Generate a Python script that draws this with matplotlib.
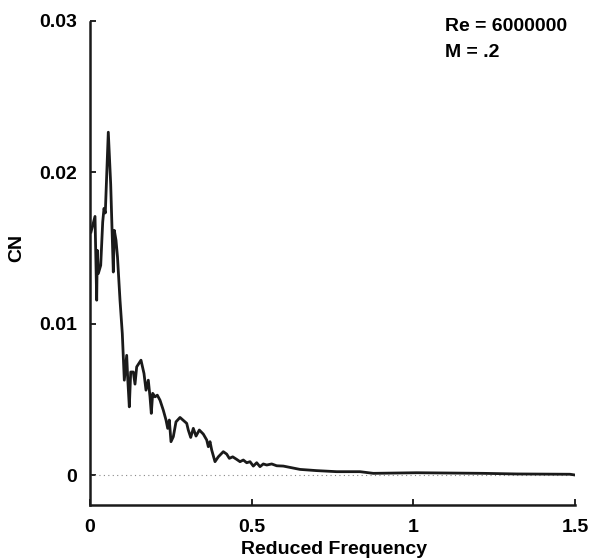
import matplotlib
matplotlib.use("Agg")
import matplotlib.pyplot as plt

plt.rcParams['font.family'] = ['Liberation Sans', 'DejaVu Sans']
plt.rcParams['font.weight'] = 'bold'

freq = [0.0031, 0.0155, 0.0207, 0.0226, 0.0257, 0.0331, 0.0393, 0.0433, 0.0473,
        0.0566, 0.0640, 0.0721, 0.0752, 0.0804, 0.0850, 0.0928, 0.0999, 0.1030,
        0.1061, 0.1135, 0.1166, 0.1216, 0.1259, 0.1339, 0.1392, 0.1444, 0.1577,
        0.1670, 0.1732, 0.1803, 0.1856, 0.1896, 0.1939, 0.2011, 0.2082, 0.2165,
        0.2267, 0.2351, 0.2403, 0.2453, 0.2505, 0.2577, 0.2660, 0.2784, 0.2991,
        0.3040, 0.3115, 0.3195, 0.3279, 0.3381, 0.3505, 0.3610, 0.3659, 0.3712,
        0.3764, 0.3866, 0.3968, 0.4123, 0.4228, 0.4309, 0.4414, 0.4538, 0.4640,
        0.4742, 0.4847, 0.4949, 0.5051, 0.5156, 0.5258, 0.5360, 0.5466, 0.5620,
        0.5775, 0.5979, 0.6495, 0.7012, 0.7631, 0.8351, 0.8763, 1.0105, 1.2165,
        1.3198, 1.4847, 1.5000]
cn = [0.01604, 0.01707, 0.01154, 0.01483, 0.01330, 0.01384, 0.01670, 0.01760, 0.01730,
      0.02263, 0.01920, 0.01340, 0.01615, 0.01550, 0.01440, 0.01154, 0.00934, 0.00780,
      0.00626, 0.00790, 0.00640, 0.00450, 0.00680, 0.00680, 0.00600, 0.00714, 0.00758,
      0.00670, 0.00560, 0.00626, 0.00516, 0.00407, 0.00539, 0.00516, 0.00527, 0.00494,
      0.00428, 0.00363, 0.00308, 0.00363, 0.00220, 0.00253, 0.00351, 0.00380, 0.00341,
      0.00297, 0.00248, 0.00308, 0.00257, 0.00297, 0.00270, 0.00231, 0.00187, 0.00220,
      0.00165, 0.00088, 0.00120, 0.00154, 0.00138, 0.00110, 0.00120, 0.00103, 0.00088,
      0.00099, 0.00081, 0.00088, 0.00059, 0.00081, 0.00055, 0.00073, 0.00066, 0.00073,
      0.00061, 0.00059, 0.00037, 0.00029, 0.00022, 0.00022, 0.00011, 0.00015, 0.00011,
      0.00007, 0.00005, 0.00000]

xticks = [0, 0.5, 1, 1.5]
xticklabels = ['0', '0.5', '1', '1.5']
yticks = [0, 0.01, 0.02, 0.03]
yticklabels = ['0', '0.01', '0.02', '0.03']

fig = plt.figure(figsize=(5.89, 5.6), dpi=100)
ax = fig.add_axes([0.1528, 0.0982, 0.8234, 0.8678])

ax.plot([0, 1.5], [0, 0], color='#888888', lw=0.8, ls=(0, (1, 3)))
ax.plot(freq, cn, color='#1a1a1a', lw=2.0)

ax.set_xlim(0, 1.5)
ax.set_ylim(-0.00198, 0.0301)
ax.set_xticks(xticks)
ax.set_xticklabels(xticklabels)
ax.set_yticks(yticks)
ax.set_yticklabels(yticklabels)
ax.tick_params(direction='in', length=4, width=1.2, labelsize=14)
ax.tick_params(axis='y', pad=9)
ax.tick_params(axis='x', pad=10)
for s in ['top', 'right']:
    ax.spines[s].set_visible(False)
for s in ['left', 'bottom']:
    ax.spines[s].set_linewidth(1.8)
    ax.spines[s].set_color('#1a1a1a')
ax.spines['left'].set_bounds(-0.00198, 0.0299)

ax.set_xlabel('Reduced Frequency', fontsize=14, fontweight='bold')
ax.set_ylabel('CN', fontsize=14, fontweight='bold')
ax.yaxis.set_label_coords(-0.134, 0.53)
ax.xaxis.set_label_coords(0.503, -0.074)

ax.text(1.098, 0.0296, 'Re = 6000000', fontsize=14, fontweight='bold',
        va='center', ha='left')
ax.text(1.098, 0.0279, 'M = .2', fontsize=14, fontweight='bold',
        va='center', ha='left')

fig.savefig('out.png', dpi=100)
